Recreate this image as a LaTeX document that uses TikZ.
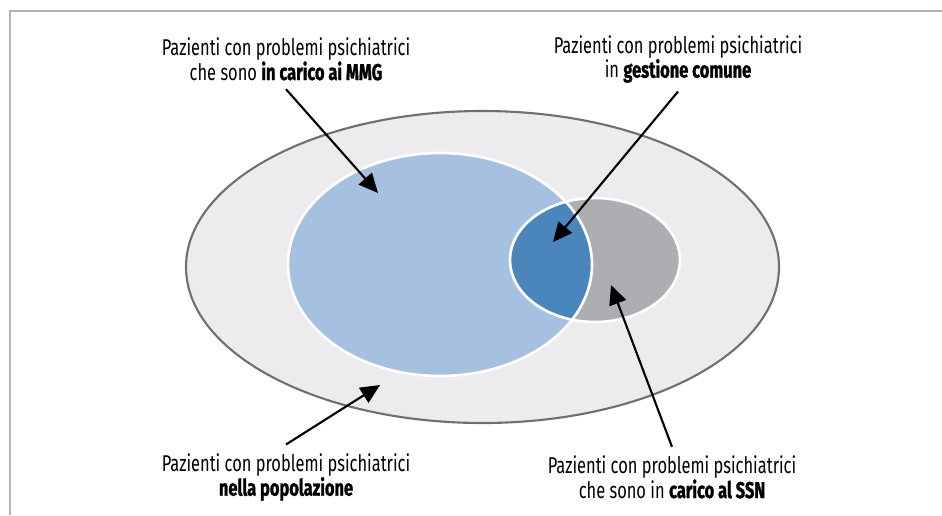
\documentclass[tikz,border=0pt]{standalone}
\usepackage{fontspec}
\setmainfont[FakeStretch=0.72, BoldFeatures={FakeBold=1.2}]{Fira Sans}
\usetikzlibrary{arrows.meta}
\definecolor{framegray}{HTML}{B3B3B3}
\definecolor{popfill}{HTML}{ECECEE}
\definecolor{popline}{HTML}{6F6F6F}
\definecolor{mmgblue}{HTML}{A6C0E1}
\definecolor{ssngray}{HTML}{ADAEB1}
\definecolor{commonblue}{HTML}{4A86BC}

\tikzset{
  lbl/.style={align=center, font=\fontsize{13}{14}\selectfont, inner sep=0pt, outer ysep=5pt},
  pointer/.style={line width=1.2pt, -{Triangle[length=11pt,width=10pt]}},
}

\begin{document}
\begin{tikzpicture}[x=0.02cm,y=-0.02cm]
\useasboundingbox (0,0) rectangle (942,515);
\draw [framegray, line width=1.2pt] (10,515) -- (10,11) -- (942,11);

% population
\draw [popline, line width=1.2pt, fill=popfill] (482.5,267) ellipse [x radius=296.5, y radius=156];

% MMG and SSN sets
\fill [mmgblue] (440,264.5) ellipse [x radius=152, y radius=111.5];
\fill [ssngray] (595,260) ellipse [x radius=85, y radius=62];
\begin{scope}
  \clip (440,264.5) ellipse [x radius=152, y radius=111.5];
  \fill [commonblue] (595,260) ellipse [x radius=85, y radius=62];
\end{scope}
\draw [white, line width=1.5pt] (440,264.5) ellipse [x radius=152, y radius=111.5];
\draw [white, line width=1.5pt] (595,260) ellipse [x radius=85, y radius=62];

% labels
\node [lbl] (mmg) at (286,59) {Pazienti con problemi psichiatrici\\che sono \textbf{in carico ai MMG}};
\node [lbl] (common) at (678,59) {Pazienti con problemi psichiatrici\\in \textbf{gestione comune}};
\node [lbl] (pop) at (286,477) {Pazienti con problemi psichiatrici\\\textbf{nella popolazione}};
\node [lbl] (ssn) at (672,477) {Pazienti con problemi psichiatrici\\che sono in \textbf{carico al SSN}};

\coordinate (mmgtip) at (378,193);
\coordinate (commontip) at (553,242);
\coordinate (poptip) at (380,385);
\coordinate (ssntip) at (611,285);

\draw [pointer] (mmg.south) -- (mmgtip);
\draw [pointer] (common.south) -- (commontip);
\draw [pointer] (pop.north) -- (poptip);
\draw [pointer] (ssn.north) -- (ssntip);
\end{tikzpicture}
\end{document}
